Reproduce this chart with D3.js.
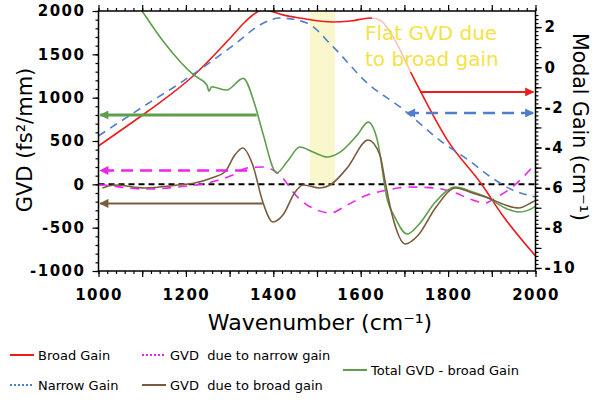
<!DOCTYPE html>
<html>
<head>
<meta charset="utf-8">
<script src="https://cdn.jsdelivr.net/npm/d3@7"></script>
<style>
  body { margin: 0; background: #fff; }
  text { font-family: "DejaVu Sans", sans-serif; }
</style>
</head>
<body>
<svg id="chart" width="602" height="403"></svg>
<script>
// modal gain curves (right axis, cm-1)
const broadGainWn  = [1000, 1101, 1133, 1216, 1301, 1335, 1356, 1375, 1392, 1420, 1461, 1537, 1576, 1622, 1644, 1674, 1720, 1798, 1878, 1924, 2000];
const broadGainVal = [-3.92, -2.38, -1.88, -0.45, 1.44, 2.25, 2.65, 2.85, 2.80, 2.62, 2.45, 2.25, 2.30, 2.45, 2.35, 1.51, -0.49, -3.62, -5.87, -7.36, -9.4];
const narrowGainWn  = [1000, 1101, 1186, 1263, 1315, 1369, 1415, 1477, 1537, 1615, 1690, 1789, 1846, 1901, 1947, 2000];
const narrowGainVal = [-3.42, -1.98, -0.8, 0.36, 1.2, 2.10, 2.45, 2.20, 1.01, -0.79, -1.98, -3.77, -4.62, -5.52, -6.11, -6.46];

// GVD curves (left axis, fs2/mm)
const gvdNarrowWn  = [1000, 1014, 1067, 1112, 1181, 1259, 1307, 1339, 1376, 1399, 1422, 1445, 1468, 1500, 1530, 1569, 1615, 1661, 1709, 1771, 1817, 1856, 1885, 1908, 1947, 1993, 2000];
const gvdNarrowVal = [-5, -8, -43, -54, -31, 27, 107, 188, 200, 165, 73, -89, -204, -296, -331, -239, -123, -66, -31, -43, -100, -181, -216, -158, -31, 200, 240];
const gvdBroadWn  = [1009, 1037, 1106, 1181, 1220, 1259, 1289, 1312, 1330, 1353, 1376, 1399, 1422, 1450, 1468, 1507, 1530, 1569, 1617, 1644, 1656, 1672, 1702, 1732, 1771, 1817, 1856, 1892, 1931, 1961, 1993, 2000];
const gvdBroadVal = [-42, -8, -42, -8, 15, 73, 142, 338, 419, 223, -204, -434, -354, -89, -8, -43, -8, 188, 511, 338, 27, -354, -688, -584, -273, -42, -100, -158, -238, -273, -204, -185];
const totalGvdWn  = [1085, 1099, 1148, 1187, 1217, 1248, 1253, 1259, 1293, 1331, 1358, 1376, 1408, 1431, 1461, 1491, 1523, 1553, 1592, 1617, 1638, 1661, 1679, 1706, 1732, 1771, 1817, 1856, 1892, 1931, 1961, 1993, 2000];
const totalGvdVal = [2110, 2005, 1650, 1415, 1265, 1146, 1076, 1126, 1088, 1223, 915, 592, 132, 257, 430, 372, 315, 372, 568, 718, 510, -181, -388, -573, -469, -204, -31, -89, -158, -274, -320, -274, -251];

// arrows pointing to the axis each curve belongs to
const arrowSeries = ["total", "narrowGvd", "broadGvd", "broadGain", "narrowGain"];
const arrowFrom   = [1362, 1340, 1376, 1736, 1706];
const arrowTo     = [1004, 1004, 1004, 1995, 1995];
const arrowValue  = [800, 160, -220, -1.23, -2.28];

const flatBand = [1484, 1541];
const gvdTicks = [-1000, -500, 0, 500, 1000, 1500, 2000];
const gainTicks = [-10, -8, -6, -4, -2, 0, 2];
const wnTicks = [1000, 1200, 1400, 1600, 1800, 2000];

const styles = {
  broadGain:  {color: "#ee1b1b", label: "Broad Gain", width: 1.6, dash: null, axis: "R"},
  narrowGain: {color: "#4f7fcc", label: "Narrow Gain", width: 1.6, dash: "8,6", axis: "R"},
  narrowGvd:  {color: "#ee22ee", label: "GVD  due to narrow gain", width: 1.6, dash: "9,7", axis: "L"},
  broadGvd:   {color: "#7a5b3c", label: "GVD  due to broad gain", width: 1.6, dash: null, axis: "L"},
  total:      {color: "#5e9e4c", label: "Total GVD - broad Gain", width: 1.6, dash: null, axis: "L"}
};

const svg = d3.select("#chart");
const pLeft = 98.5, pRight = 535.5, pTop = 11, pBottom = 271;

const x = d3.scaleLinear().domain([1000, 2000]).range([pLeft, pRight]);
const yL = d3.scaleLinear().domain([-1000, 2000]).range([pBottom, pTop]);
const yR = d3.scaleLinear().domain([-10.15, 2.8]).range([pBottom, pTop]);

const defs = svg.append("defs");
defs.append("clipPath").attr("id", "plotclip")
  .append("rect").attr("x", pLeft).attr("y", pTop).attr("width", pRight - pLeft).attr("height", pBottom - pTop);

// arrow heads
Object.keys(styles).forEach(k => {
  defs.append("marker")
    .attr("id", "arr-" + k)
    .attr("viewBox", "0 0 10 10")
    .attr("refX", 9).attr("refY", 5)
    .attr("markerWidth", 11).attr("markerHeight", 9)
    .attr("markerUnits", "userSpaceOnUse")
    .attr("orient", "auto-start-reverse")
    .append("path").attr("d", "M0,0 L10,5 L0,10 Z")
    .attr("fill", styles[k].color);
});

// yellow band
svg.append("rect")
  .attr("x", x(flatBand[0])).attr("width", x(flatBand[1]) - x(flatBand[0]))
  .attr("y", pTop).attr("height", yL(0) + 1 - pTop)
  .attr("fill", "#faf7cc");

const plot = svg.append("g").attr("clip-path", "url(#plotclip)");

// zero line
plot.append("line")
  .attr("x1", x(1000)).attr("x2", x(2000))
  .attr("y1", yL(0)).attr("y2", yL(0))
  .attr("stroke", "#000").attr("stroke-width", 2).attr("stroke-dasharray", "6,4");

const series = {
  broadGain: [broadGainWn, broadGainVal],
  narrowGain: [narrowGainWn, narrowGainVal],
  narrowGvd: [gvdNarrowWn, gvdNarrowVal],
  total: [totalGvdWn, totalGvdVal],
  broadGvd: [gvdBroadWn, gvdBroadVal]
};

Object.keys(series).forEach(k => {
  const st = styles[k];
  const ys = st.axis === "R" ? yR : yL;
  const pts = series[k][0].map((w, i) => [w, series[k][1][i]]);
  const line = d3.line().x(d => x(d[0])).y(d => ys(d[1])).curve(d3.curveMonotoneX);
  plot.append("path")
    .datum(pts)
    .attr("d", line)
    .attr("fill", "none")
    .attr("stroke", st.color)
    .attr("stroke-width", st.width)
    .attr("stroke-dasharray", st.dash);
});

// arrows
const arrowWidth = {total: 3, narrowGvd: 2.5, broadGvd: 2, broadGain: 2, narrowGain: 2.5};
arrowSeries.forEach((k, i) => {
  const st = styles[k];
  const ys = st.axis === "R" ? yR : yL;
  const ln = svg.append("line")
    .attr("x1", x(arrowFrom[i])).attr("x2", x(arrowTo[i]))
    .attr("y1", ys(arrowValue[i])).attr("y2", ys(arrowValue[i]))
    .attr("stroke", st.color)
    .attr("stroke-width", arrowWidth[k])
    .attr("stroke-dasharray", st.dash ? "12,7" : null)
    .attr("marker-end", "url(#arr-" + k + ")");
  if (k === "narrowGain") ln.attr("marker-start", "url(#arr-" + k + ")");
});

// text box
svg.append("rect").attr("x", 372).attr("y", 12).attr("width", 133).attr("height", 60)
  .attr("fill", "#fff").attr("opacity", 0.72);
svg.append("text").attr("x", 365).attr("y", 40).attr("font-size", 20).attr("fill", "#f4e244")
  .text("Flat GVD due");
svg.append("text").attr("x", 365).attr("y", 66).attr("font-size", 20).attr("fill", "#f4e244")
  .text("to broad gain");

// axes
function styleAxis(g) {
  g.select(".domain").remove();
  g.selectAll("line").attr("stroke", "#000").attr("stroke-width", 1.2);
  g.selectAll("text").attr("font-size", 15).attr("font-weight", "bold").attr("letter-spacing", 1.5).attr("fill", "#000");
}
const fmt = d => String(d);

svg.append("g").attr("transform", `translate(${pLeft},0)`)
  .call(d3.axisLeft(yL).tickValues(d3.range(-1000, 2001, 100)).tickSize(3).tickFormat(""))
  .call(styleAxis);
svg.append("g").attr("transform", `translate(${pLeft},0)`)
  .call(d3.axisLeft(yL).tickValues(gvdTicks).tickSize(6).tickPadding(7).tickFormat(fmt))
  .call(styleAxis);

svg.append("g").attr("transform", `translate(${pRight},0)`)
  .call(d3.axisRight(yR).tickValues(d3.range(-50, 14).map(d => d / 5)).tickSize(3).tickFormat(""))
  .call(styleAxis);
svg.append("g").attr("transform", `translate(${pRight},0)`)
  .call(d3.axisRight(yR).tickValues(d3.range(-10, 3)).tickSize(6).tickFormat(""))
  .call(styleAxis);
svg.append("g").attr("transform", `translate(${pRight},0)`)
  .call(d3.axisRight(yR).tickValues(gainTicks).tickSize(6).tickPadding(3).tickFormat(fmt))
  .call(styleAxis);

[[pBottom, d3.axisBottom], [pTop, d3.axisTop]].forEach(([yy, ax]) => {
  svg.append("g").attr("transform", `translate(0,${yy})`)
    .call(ax(x).tickValues(d3.range(1000, 2001, 20)).tickSize(3).tickFormat(""))
    .call(styleAxis);
  svg.append("g").attr("transform", `translate(0,${yy})`)
    .call(ax(x).tickValues(d3.range(1000, 2001, 100)).tickSize(6).tickFormat(""))
    .call(styleAxis);
});
svg.append("g").attr("transform", `translate(0,${pBottom})`)
  .call(d3.axisBottom(x).tickValues(wnTicks).tickSize(0).tickPadding(18).tickFormat(fmt))
  .call(styleAxis);

// frame
svg.append("rect").attr("x", pLeft).attr("y", pTop).attr("width", pRight - pLeft).attr("height", pBottom - pTop)
  .attr("fill", "none").attr("stroke", "#000").attr("stroke-width", 1.5);

// axis titles
svg.append("text").attr("transform", "translate(32,140) rotate(-90)")
  .attr("text-anchor", "middle").attr("font-size", 21).text("GVD (fs²/mm)");
svg.append("text").attr("transform", "translate(573,127) rotate(90)")
  .attr("text-anchor", "middle").attr("font-size", 20.5).text("Modal Gain (cm⁻¹)");
svg.append("text").attr("x", 320).attr("y", 330)
  .attr("text-anchor", "middle").attr("font-size", 22).text("Wavenumber (cm⁻¹)");

// legend
const legendKeys = ["broadGain", "narrowGain", "narrowGvd", "broadGvd", "total"];
const legendPos = [[10, 355], [10, 385], [142, 355], [142, 385], [343, 370]];
legendKeys.forEach((k, i) => {
  const st = styles[k];
  const [lx, ly] = legendPos[i];
  svg.append("line").attr("x1", lx).attr("x2", lx + 24).attr("y1", ly).attr("y2", ly)
    .attr("stroke", st.color).attr("stroke-width", 2)
    .attr("stroke-dasharray", st.dash ? "2,2" : null);
  svg.append("text").attr("x", lx + 28).attr("y", ly + 5).attr("font-size", 13).text(st.label)
    .style("white-space", "pre");
});
</script>
</body>
</html>
